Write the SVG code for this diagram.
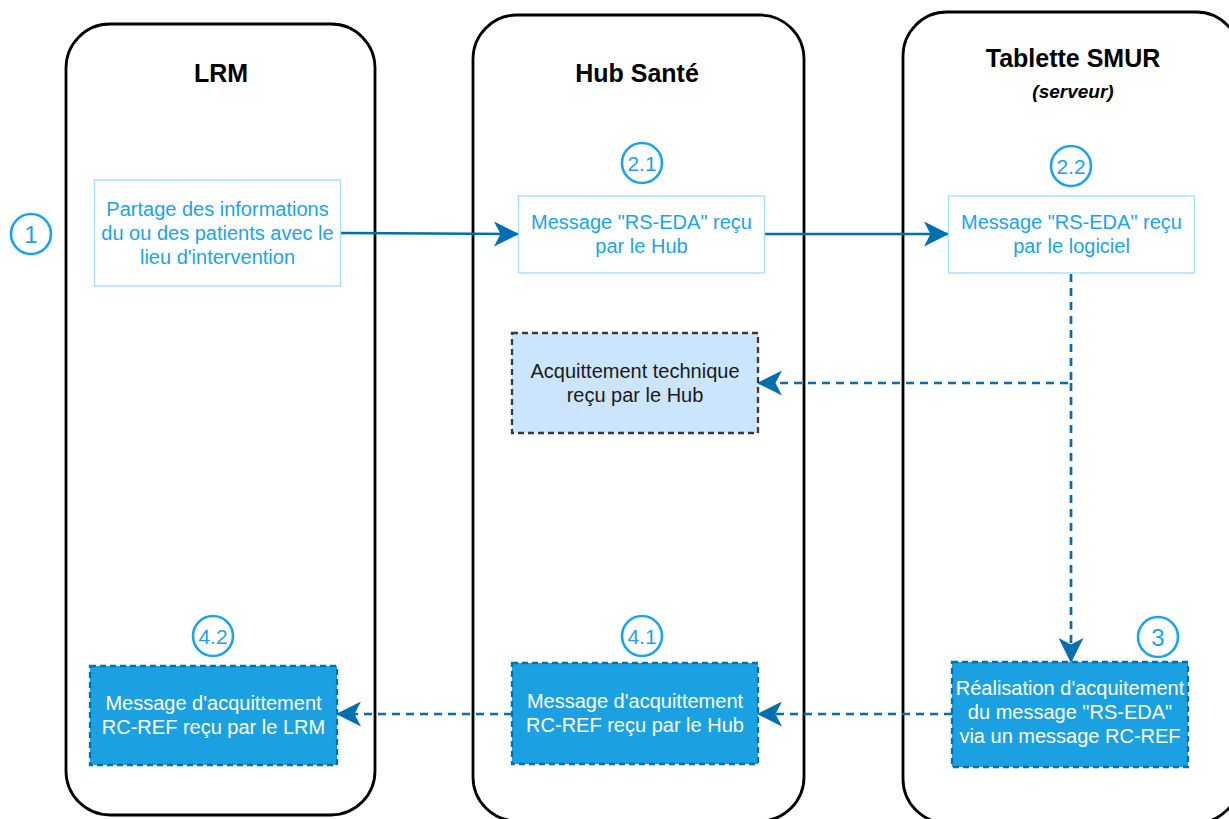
<svg xmlns="http://www.w3.org/2000/svg" width="1229" height="819" viewBox="0 0 1229 819">
<style>
.lane{fill:#ffffff;stroke:#000000;stroke-width:2.8}
.title{font-family:"Liberation Sans",Arial,sans-serif;font-size:25px;font-weight:bold;fill:#000000;text-anchor:middle}
.sub{font-family:"Liberation Sans",Arial,sans-serif;font-size:19px;font-weight:bold;font-style:italic;fill:#000000;text-anchor:middle}
.light{fill:#ffffff;stroke:#a6dcff;stroke-width:1.3}
.lt{font-family:"Liberation Sans",Arial,sans-serif;font-size:20px;fill:#1ca3ee;text-anchor:middle}
.ack{fill:#cce5ff;stroke:#36393d;stroke-width:2.3;stroke-dasharray:6 4}
.dt{font-family:"Liberation Sans",Arial,sans-serif;font-size:20px;fill:#1a1a1a;text-anchor:middle}
.dark{fill:#1ba1e2;stroke:#006eaf;stroke-width:2.3;stroke-dasharray:6 4}
.wt{font-family:"Liberation Sans",Arial,sans-serif;font-size:20px;fill:#ffffff;text-anchor:middle}
.num{fill:#ffffff;stroke:#1ca3ee;stroke-width:2.6}
.nt{font-family:"Liberation Sans",Arial,sans-serif;font-size:21px;fill:#1ca3ee;text-anchor:middle}
.nb{font-family:"Liberation Sans",Arial,sans-serif;font-size:24px;fill:#1ca3ee;text-anchor:middle}
.solid{fill:none;stroke:#006eaf;stroke-width:2.5}
.dash{fill:none;stroke:#006eaf;stroke-width:2.7;stroke-dasharray:8 6}
</style>
<defs>
<marker id="arr" markerUnits="userSpaceOnUse" markerWidth="25" markerHeight="25" viewBox="0 0 25 25" refX="24" refY="12.5" orient="auto">
<path d="M0,0 L25,12.5 L0,25 L6.5,12.5 Z" fill="#006eaf"/>
</marker>
</defs>

<g id="lane-lrm">
<rect class="lane" x="66" y="24" width="309" height="791" rx="44" ry="44"/>
<text class="title" x="221" y="82">LRM</text>
</g>
<g id="lane-hub">
<rect class="lane" x="473" y="15" width="331" height="806" rx="44" ry="44"/>
<text class="title" x="637" y="82">Hub Santé</text>
</g>
<g id="lane-smur">
<rect class="lane" x="903" y="12" width="337" height="811" rx="44" ry="44"/>
<text class="title" x="1073" y="67">Tablette SMUR</text>
<text class="sub" x="1073" y="98">(serveur)</text>
</g>

<g id="connectors">
<path class="solid" d="M341,233 C420,233 440,234 518,234" marker-end="url(#arr)"/>
<path class="solid" d="M765,234 L948,234" marker-end="url(#arr)"/>
<path class="dash" d="M1071,274 L1071,383 L758,383" marker-end="url(#arr)"/>
<path class="dash" d="M1071,383 L1071,662" marker-end="url(#arr)"/>
<path class="dash" d="M952,714 L758,714" marker-end="url(#arr)"/>
<path class="dash" d="M512,714 L337,714" marker-end="url(#arr)"/>
</g>

<g id="step1">
<circle class="num" cx="31" cy="234" r="20"/>
<text class="nb" x="31" y="243">1</text>
</g>
<g id="node-partage">
<rect class="light" x="94.5" y="180" width="246" height="106"/>
<text class="lt" x="217.5" y="216">Partage des informations</text>
<text class="lt" x="217.5" y="240">du ou des patients avec le</text>
<text class="lt" x="217.5" y="264">lieu d'intervention</text>
</g>

<g id="step21">
<circle class="num" cx="642" cy="163" r="20"/>
<text class="nt" x="642" y="170.5">2.1</text>
</g>
<g id="node-hub-recu">
<rect class="light" x="518.5" y="196" width="246" height="77"/>
<text class="lt" x="641.5" y="229">Message "RS-EDA" reçu</text>
<text class="lt" x="641.5" y="253">par le Hub</text>
</g>

<g id="step22">
<circle class="num" cx="1071" cy="166" r="20"/>
<text class="nt" x="1071" y="173.5">2.2</text>
</g>
<g id="node-logiciel-recu">
<rect class="light" x="948.5" y="196" width="246" height="77"/>
<text class="lt" x="1071.5" y="229">Message "RS-EDA" reçu</text>
<text class="lt" x="1071.5" y="253">par le logiciel</text>
</g>

<g id="node-acq-tech">
<rect class="ack" x="512" y="333" width="246" height="100"/>
<text class="dt" x="635" y="378">Acquittement technique</text>
<text class="dt" x="635" y="402">reçu par le Hub</text>
</g>

<g id="step3">
<circle class="num" cx="1158" cy="637" r="20"/>
<text class="nb" x="1158" y="646">3</text>
</g>
<g id="node-realisation">
<rect class="dark" x="952" y="662" width="236" height="105"/>
<text class="wt" x="1070" y="695">Réalisation d'acquitement</text>
<text class="wt" x="1070" y="719">du message "RS-EDA"</text>
<text class="wt" x="1070" y="743">via un message RC-REF</text>
</g>

<g id="step41">
<circle class="num" cx="642" cy="636" r="20"/>
<text class="nt" x="642" y="643.5">4.1</text>
</g>
<g id="node-hub-ack">
<rect class="dark" x="512" y="663" width="246" height="101"/>
<text class="wt" x="635" y="708">Message d'acquittement</text>
<text class="wt" x="635" y="732">RC-REF reçu par le Hub</text>
</g>

<g id="step42">
<circle class="num" cx="213" cy="636" r="20"/>
<text class="nt" x="213" y="643.5">4.2</text>
</g>
<g id="node-lrm-ack">
<rect class="dark" x="90" y="666" width="247" height="99"/>
<text class="wt" x="213.5" y="710">Message d'acquittement</text>
<text class="wt" x="213.5" y="734">RC-REF reçu par le LRM</text>
</g>
</svg>
